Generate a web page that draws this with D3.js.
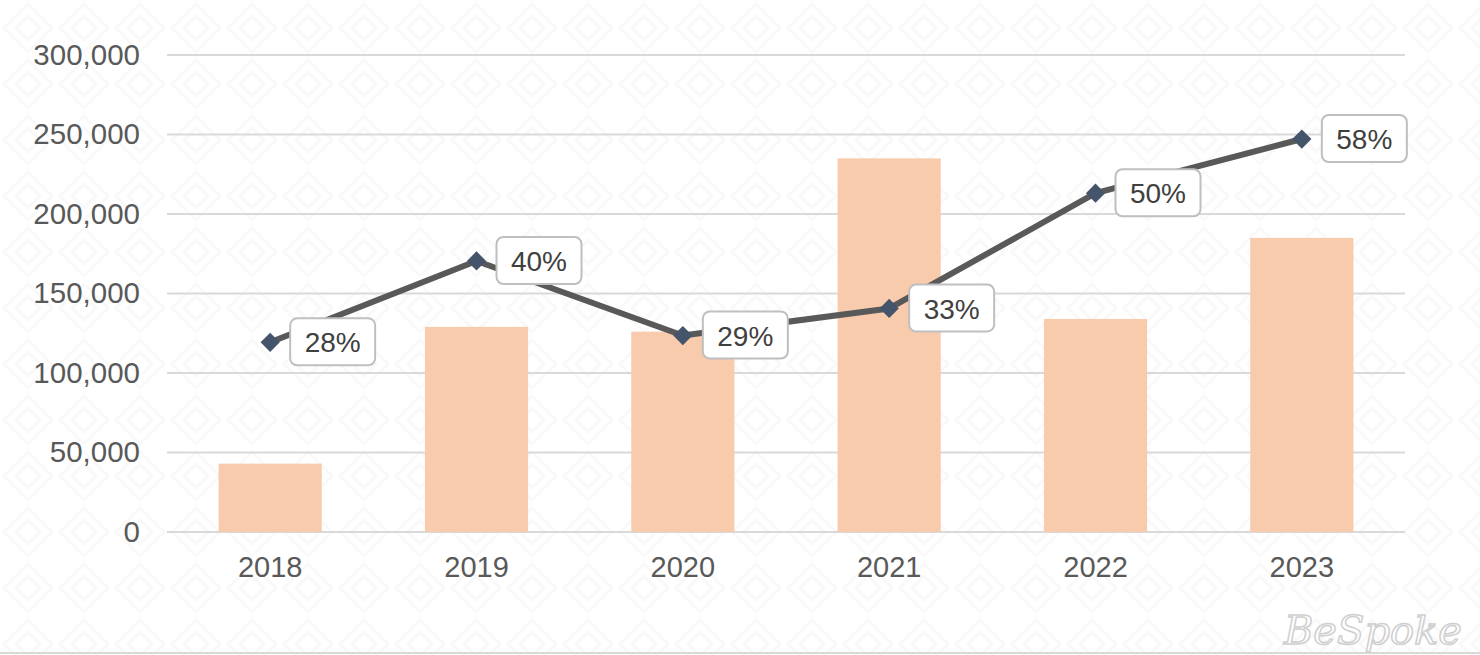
<!DOCTYPE html>
<html>
<head>
	<meta charset="utf-8">
	<title>Chart</title>
	<script src="https://cdn.jsdelivr.net/npm/d3@7"></script>
	<style>
	body{
		margin: 0;
		background: #ffffff;
	}
	svg text{
		font-family: "Liberation Sans", Arial, sans-serif;
	}
	</style>
</head>
<body>
<svg id="chart" width="1480" height="655"></svg>
<script>
var years = ["2018", "2019", "2020", "2021", "2022", "2023"];
var volumes = [43000, 129000, 126000, 235000, 134000, 185000];
var shares = [0.28, 0.40, 0.29, 0.33, 0.50, 0.58];
var yTicks = [0, 50000, 100000, 150000, 200000, 250000, 300000];

var svg = d3.select("#chart");

// faint background pattern
var defs = svg.append("defs");
var pat = defs.append("pattern")
	.attr("id", "bg")
	.attr("width", 56)
	.attr("height", 56)
	.attr("patternUnits", "userSpaceOnUse");
pat.append("path")
	.attr("d", "M28,4 L52,28 L28,52 L4,28 Z M28,16 L40,28 L28,40 L16,28 Z")
	.attr("fill", "none")
	.attr("stroke", "#f9f9f9")
	.attr("stroke-width", 3);
svg.append("rect")
	.attr("width", 1480)
	.attr("height", 655)
	.attr("fill", "url(#bg)");

var x = d3.scaleBand()
	.domain(years)
	.range([167, 1405])
	.paddingInner(0.5)
	.paddingOuter(0.25);

var y = d3.scaleLinear()
	.domain([0, 300000])
	.range([532, 55]);

// secondary (hidden) axis for the percentage line
var y2 = d3.scaleLinear()
	.domain([0, 0.704])
	.range([532, 55]);

// gridlines
svg.append("g")
	.selectAll("line")
	.data(yTicks)
	.enter()
	.append("line")
	.attr("x1", 167)
	.attr("x2", 1405)
	.attr("y1", function(d){ return y(d); })
	.attr("y2", function(d){ return y(d); })
	.attr("stroke", "#d9d9d9")
	.attr("stroke-width", 2);

// y axis labels
var yAxis = svg.append("g")
	.attr("transform", "translate(140,0)")
	.call(d3.axisLeft(y).tickValues(yTicks).tickFormat(d3.format(",")).tickSize(0).tickPadding(0));
yAxis.select(".domain").remove();
yAxis.selectAll("text")
	.attr("font-size", "29.5px")
	.attr("fill", "#595959")
	.attr("font-family", "Liberation Sans, Arial, sans-serif");

// x axis labels
var xAxis = svg.append("g")
	.attr("transform", "translate(0,556)")
	.call(d3.axisBottom(x).tickSize(0).tickPadding(0));
xAxis.select(".domain").remove();
xAxis.selectAll("text")
	.attr("font-size", "29px")
	.attr("fill", "#595959")
	.attr("font-family", "Liberation Sans, Arial, sans-serif");

// bars
svg.append("g")
	.selectAll("rect")
	.data(volumes)
	.enter()
	.append("rect")
	.attr("x", function(d, i){ return x(years[i]); })
	.attr("width", x.bandwidth())
	.attr("y", function(d){ return y(d); })
	.attr("height", function(d){ return y(0) - y(d); })
	.attr("fill", "#f8cbad");

// line
var cx = function(i){ return x(years[i]) + x.bandwidth() / 2; };
var line = d3.line()
	.x(function(d, i){ return cx(i); })
	.y(function(d){ return y2(d); });

svg.append("path")
	.datum(shares)
	.attr("d", line)
	.attr("fill", "none")
	.attr("stroke", "#595959")
	.attr("stroke-width", 6)
	.attr("stroke-linejoin", "round");

svg.append("g")
	.selectAll("path")
	.data(shares)
	.enter()
	.append("path")
	.attr("d", d3.symbol().type(d3.symbolSquare).size(185))
	.attr("transform", function(d, i){ return "translate(" + cx(i) + "," + y2(d) + ") rotate(45)"; })
	.attr("fill", "#44546a");

// data labels
var fmt = d3.format(".0%");
var labels = svg.append("g")
	.selectAll("g")
	.data(shares)
	.enter()
	.append("g")
	.attr("transform", function(d, i){ return "translate(" + (cx(i) + 20) + "," + y2(d) + ")"; });
labels.append("rect")
	.attr("x", 0)
	.attr("y", -24)
	.attr("width", 85)
	.attr("height", 47)
	.attr("rx", 7)
	.attr("fill", "#ffffff")
	.attr("stroke", "#bfbfbf")
	.attr("stroke-width", 2);
labels.append("text")
	.attr("x", 42.5)
	.attr("y", 0)
	.attr("dy", "0.36em")
	.attr("text-anchor", "middle")
	.attr("font-size", "28px")
	.attr("fill", "#404040")
	.text(function(d){ return fmt(d); });

// bottom rule and signature
svg.append("line")
	.attr("x1", 0)
	.attr("x2", 1480)
	.attr("y1", 653)
	.attr("y2", 653)
	.attr("stroke", "#d9d9d9")
	.attr("stroke-width", 2);
svg.append("text")
	.attr("x", 1462)
	.attr("y", 644)
	.attr("text-anchor", "end")
	.attr("font-size", "40px")
	.attr("font-style", "italic")
	.attr("fill", "none")
	.attr("stroke", "#cfcfcf")
	.attr("stroke-width", 1.5)
	.attr("style", "font-family: 'DejaVu Serif', serif;")
	.text("BeSpoke");
</script>
</body>
</html>
